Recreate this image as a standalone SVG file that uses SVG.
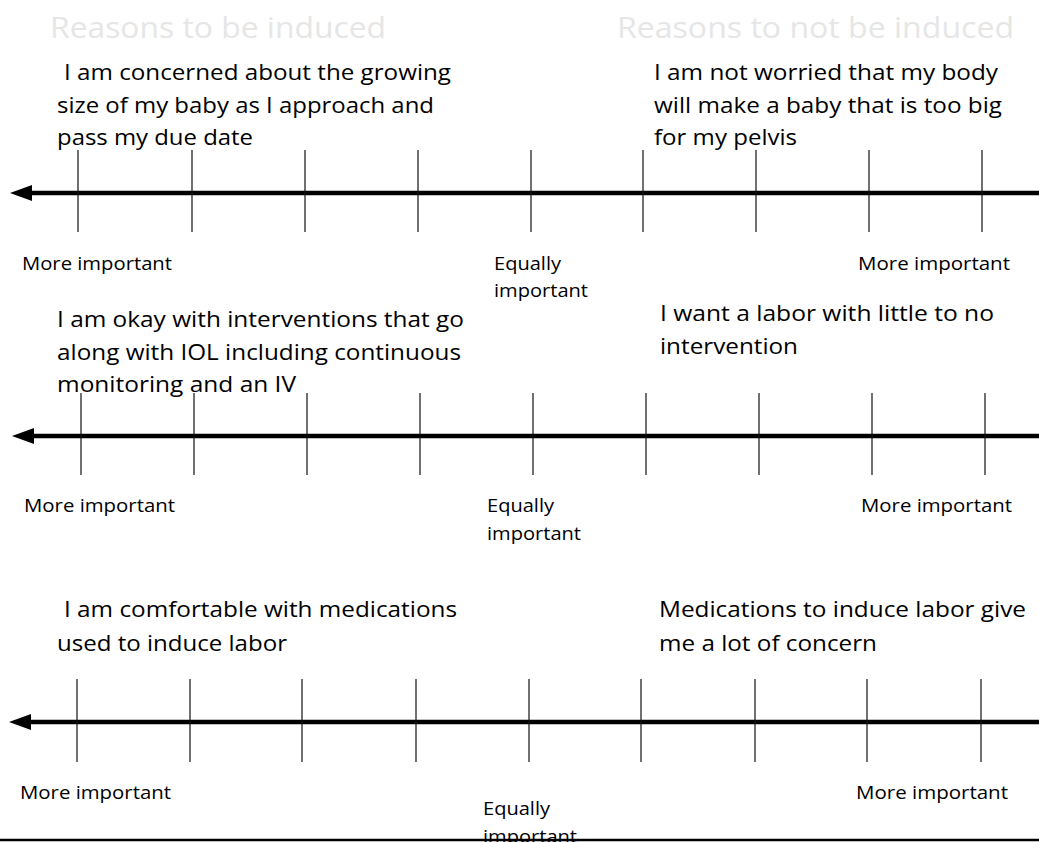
<svg xmlns="http://www.w3.org/2000/svg" width="1039" height="842" viewBox="0 0 1039 842">
<style>
text{font-family:"Open Sans","Noto Sans","Liberation Sans",sans-serif;fill:#000}
.hd{font-size:29px;fill:#e6e6e6}
.st{font-size:22.5px}
.lb{font-size:17.5px}
.tk{stroke:#111;stroke-width:1.2}
.ax{stroke:#000;stroke-width:4.5;fill:none}
</style>
<defs>
<marker id="ah" viewBox="0 0 22 16" refX="2" refY="8" markerWidth="22" markerHeight="16" markerUnits="userSpaceOnUse" orient="auto">
<path d="M0,0 L22,8 L0,16 z" fill="#000"/>
</marker>
</defs>
<rect width="1039" height="842" fill="#fff"/>
<g id="headers">
<text class="hd" x="50" y="38" textLength="336" lengthAdjust="spacingAndGlyphs">Reasons to be induced</text>
<text class="hd" x="617" y="38" textLength="397" lengthAdjust="spacingAndGlyphs">Reasons to not be induced</text>
</g>
<g id="connectors">
<line class="ax" x1="1039" y1="193" x2="30" y2="193" marker-end="url(#ah)"/>
<line class="ax" x1="1039" y1="436" x2="32" y2="436" marker-end="url(#ah)"/>
<line class="ax" x1="1039" y1="722" x2="29" y2="722" marker-end="url(#ah)"/>
<g id="ticks1">
<line class="tk" x1="78" y1="150" x2="78" y2="232"/><line class="tk" x1="192" y1="150" x2="192" y2="232"/><line class="tk" x1="305" y1="150" x2="305" y2="232"/><line class="tk" x1="418" y1="150" x2="418" y2="232"/><line class="tk" x1="531" y1="150" x2="531" y2="232"/><line class="tk" x1="643" y1="150" x2="643" y2="232"/><line class="tk" x1="756" y1="150" x2="756" y2="232"/><line class="tk" x1="869" y1="150" x2="869" y2="232"/><line class="tk" x1="982" y1="150" x2="982" y2="232"/>
</g>
<g id="ticks2">
<line class="tk" x1="81" y1="393" x2="81" y2="475"/><line class="tk" x1="194" y1="393" x2="194" y2="475"/><line class="tk" x1="307" y1="393" x2="307" y2="475"/><line class="tk" x1="420" y1="393" x2="420" y2="475"/><line class="tk" x1="533" y1="393" x2="533" y2="475"/><line class="tk" x1="646" y1="393" x2="646" y2="475"/><line class="tk" x1="759" y1="393" x2="759" y2="475"/><line class="tk" x1="872" y1="393" x2="872" y2="475"/><line class="tk" x1="985" y1="393" x2="985" y2="475"/>
</g>
<g id="ticks3">
<line class="tk" x1="77" y1="679" x2="77" y2="762"/><line class="tk" x1="190" y1="679" x2="190" y2="762"/><line class="tk" x1="302" y1="679" x2="302" y2="762"/><line class="tk" x1="416" y1="679" x2="416" y2="762"/><line class="tk" x1="529" y1="679" x2="529" y2="762"/><line class="tk" x1="641" y1="679" x2="641" y2="762"/><line class="tk" x1="755" y1="679" x2="755" y2="762"/><line class="tk" x1="867" y1="679" x2="867" y2="762"/><line class="tk" x1="981" y1="679" x2="981" y2="762"/>
</g>
</g>
<g id="row1-left">
<text class="st" x="64" y="80" textLength="387" lengthAdjust="spacingAndGlyphs">I am concerned about the growing</text>
<text class="st" x="57" y="113" textLength="377" lengthAdjust="spacingAndGlyphs">size of my baby as I approach and</text>
<text class="st" x="57" y="145" textLength="196" lengthAdjust="spacingAndGlyphs">pass my due date</text>
</g>
<g id="row1-right">
<text class="st" x="654" y="80" textLength="344" lengthAdjust="spacingAndGlyphs">I am not worried that my body</text>
<text class="st" x="654" y="113" textLength="348" lengthAdjust="spacingAndGlyphs">will make a baby that is too big</text>
<text class="st" x="654" y="145" textLength="143" lengthAdjust="spacingAndGlyphs">for my pelvis</text>
</g>
<g id="row1-labels">
<text class="lb" x="22" y="270" textLength="150" lengthAdjust="spacingAndGlyphs">More important</text>
<text class="lb" x="494" y="270" textLength="67" lengthAdjust="spacingAndGlyphs">Equally</text>
<text class="lb" x="494" y="297" textLength="94" lengthAdjust="spacingAndGlyphs">important</text>
<text class="lb" x="858" y="270" textLength="152" lengthAdjust="spacingAndGlyphs">More important</text>
</g>
<g id="row2-left">
<text class="st" x="57" y="327" textLength="407" lengthAdjust="spacingAndGlyphs">I am okay with interventions that go</text>
<text class="st" x="57" y="360" textLength="404" lengthAdjust="spacingAndGlyphs">along with IOL including continuous</text>
<text class="st" x="57" y="392" textLength="239" lengthAdjust="spacingAndGlyphs">monitoring and an IV</text>
</g>
<g id="row2-right">
<text class="st" x="660" y="321" textLength="334" lengthAdjust="spacingAndGlyphs">I want a labor with little to no</text>
<text class="st" x="660" y="354" textLength="138" lengthAdjust="spacingAndGlyphs">intervention</text>
</g>
<g id="row2-labels">
<text class="lb" x="24" y="512" textLength="151" lengthAdjust="spacingAndGlyphs">More important</text>
<text class="lb" x="487" y="512" textLength="67" lengthAdjust="spacingAndGlyphs">Equally</text>
<text class="lb" x="487" y="540" textLength="94" lengthAdjust="spacingAndGlyphs">important</text>
<text class="lb" x="861" y="512" textLength="151" lengthAdjust="spacingAndGlyphs">More important</text>
</g>
<g id="row3-left">
<text class="st" x="64" y="617" textLength="393" lengthAdjust="spacingAndGlyphs">I am comfortable with medications</text>
<text class="st" x="57" y="651" textLength="230" lengthAdjust="spacingAndGlyphs">used to induce labor</text>
</g>
<g id="row3-right">
<text class="st" x="659" y="617" textLength="367" lengthAdjust="spacingAndGlyphs">Medications to induce labor give</text>
<text class="st" x="659" y="651" textLength="218" lengthAdjust="spacingAndGlyphs">me a lot of concern</text>
</g>
<g id="row3-labels">
<text class="lb" x="20" y="799" textLength="151" lengthAdjust="spacingAndGlyphs">More important</text>
<text class="lb" x="483" y="815" textLength="67" lengthAdjust="spacingAndGlyphs">Equally</text>
<text class="lb" x="483" y="843" textLength="94" lengthAdjust="spacingAndGlyphs">important</text>
<text class="lb" x="856" y="799" textLength="152" lengthAdjust="spacingAndGlyphs">More important</text>
</g>
<line id="bottom-rule" x1="0" y1="840" x2="1039" y2="840" stroke="#000" stroke-width="2.5"/>
</svg>
